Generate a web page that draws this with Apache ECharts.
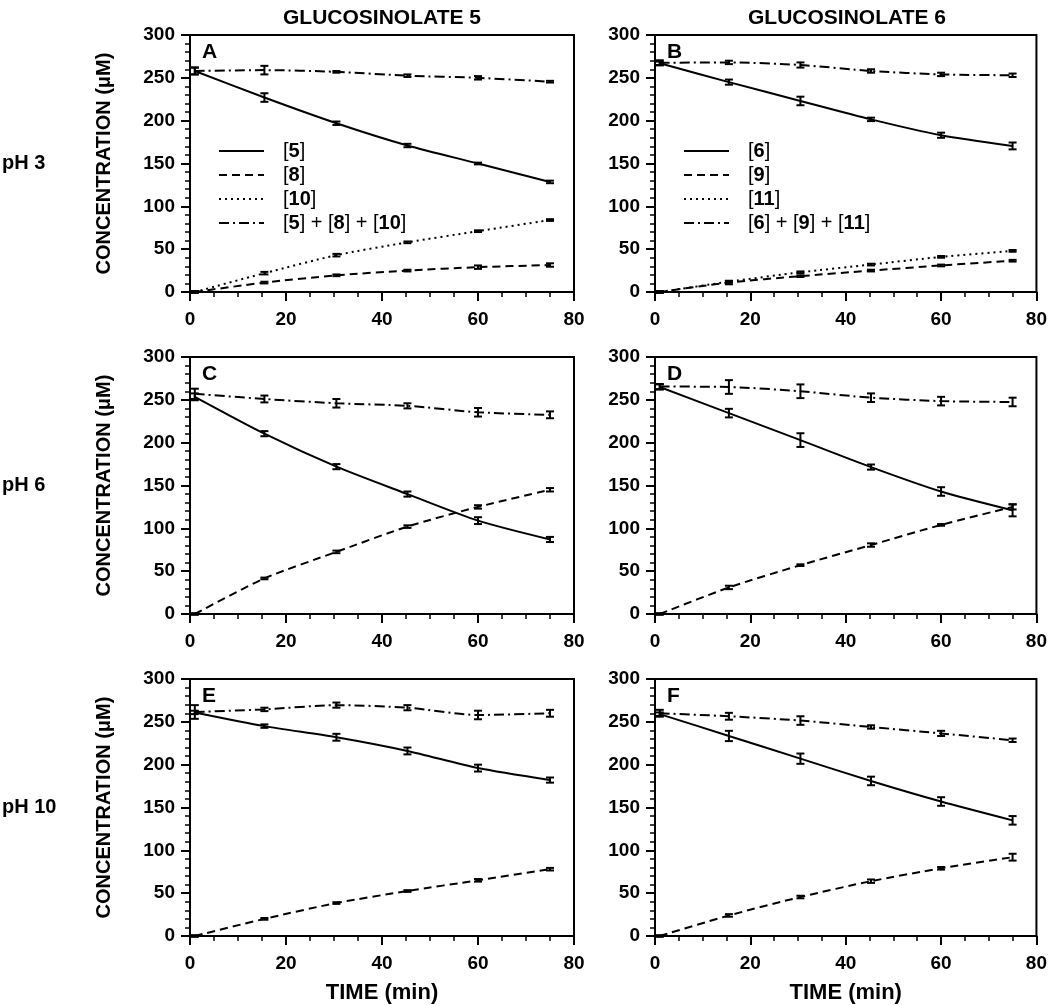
<!DOCTYPE html>
<html>
<head>
<meta charset="utf-8">
<title>Glucosinolate 5 / 6 degradation</title>
<script src="https://cdn.jsdelivr.net/npm/echarts@6/dist/echarts.min.js"></script>
<style>
  html, body { margin: 0; padding: 0; background: #fff; }
  #chart { width: 1050px; height: 1005px; }
</style>
</head>
<body>
<div id="chart"></div>
<script>
// sampling times (min)
var times = [1, 15.5, 30.5, 45.3, 60, 75];

// panel A - glucosinolate 5, pH 3
var a5 = [258, 227, 197, 171, 150, 128.5];
var a8 = [0, 11, 19.5, 25, 29, 31.5];
var a10 = [0, 22, 43, 58, 71, 84];
var aSum = [258, 259, 257, 252.5, 250, 245.5];
var a5Err = [4, 5, 2, 2, 1, 1.5];
var a8Err = [1, 1, 1, 1, 2, 2];
var a10Err = [1, 1.5, 1.5, 1, 1, 1];
var aSumErr = [4, 5, 1, 1.5, 2, 1];

// panel B - glucosinolate 6, pH 3
var b6 = [267, 245, 223, 201.5, 183, 170.5];
var b9 = [0, 11, 18.5, 25, 31, 36.5];
var b11 = [0, 12, 23, 32, 41, 48];
var bSum = [267.5, 268, 265, 258, 254, 253];
var b6Err = [2, 3, 5, 2, 3, 4];
var b9Err = [1, 2, 1, 1, 1, 1];
var b11Err = [1, 1, 1, 1, 1, 1];
var bSumErr = [3, 2, 3, 2, 2, 2];

// panel C - glucosinolate 5, pH 6
var c5 = [253.5, 210.5, 172, 140, 109, 87];
var c8 = [0, 41.5, 72.5, 102, 125, 145];
var cSum = [257, 251, 246, 243, 235.5, 232.5];
var c5Err = [4, 3, 3, 3, 4, 3];
var c8Err = [1, 1, 1.5, 1.5, 2, 2];
var cSumErr = [6, 4, 5, 3, 5, 4];

// panel D - glucosinolate 6, pH 6
var d6 = [265, 234.5, 203, 171.5, 143, 121];
var d9 = [0, 31, 57, 80.5, 104, 125];
var dSum = [265.5, 265, 260, 252.5, 248.5, 247.5];
var d6Err = [3, 5, 8, 3, 5, 7];
var d9Err = [1, 2, 1, 2, 1, 3];
var dSumErr = [3, 8, 8, 5, 5, 5];

// panel E - glucosinolate 5, pH 10
var e5 = [261, 245, 232, 216, 196, 182];
var e8 = [0, 20, 38.5, 52.5, 65, 78];
var eSum = [261.5, 264.5, 269.5, 266.5, 258, 260];
var e5Err = [2, 2, 4, 4, 4, 3];
var e8Err = [1, 1, 1, 1, 1.5, 1.5];
var eSumErr = [8, 2, 3, 3, 5, 4];

// panel F - glucosinolate 6, pH 10
var f6 = [259, 233.5, 207, 181, 157, 135];
var f9 = [0, 24, 45.5, 64, 79, 92];
var fSum = [260, 256.5, 251.5, 244, 236.5, 228.5];
var f6Err = [2, 6, 6, 5, 5, 5];
var f9Err = [1, 1.5, 1.5, 2, 1.5, 4];
var fSumErr = [4, 4, 5, 2, 3, 2];

var names5 = ['[5]', '[8]', '[10]', '[5] + [8] + [10]'];
var names6 = ['[6]', '[9]', '[11]', '[6] + [9] + [11]'];

var FONT = "'Liberation Sans', Arial, sans-serif";

// dash style per role: parent, first product, second product, sum
var dashes = ['solid', [8, 5], [2, 4], [10, 4, 2, 4]];

var panels = [
  { letter: 'A', names: names5, lines: [a5, a8, a10, aSum], errs: [a5Err, a8Err, a10Err, aSumErr] },
  { letter: 'B', names: names6, lines: [b6, b9, b11, bSum], errs: [b6Err, b9Err, b11Err, bSumErr] },
  { letter: 'C', names: names5, lines: [c5, c8, null, cSum], errs: [c5Err, c8Err, null, cSumErr] },
  { letter: 'D', names: names6, lines: [d6, d9, null, dSum], errs: [d6Err, d9Err, null, dSumErr] },
  { letter: 'E', names: names5, lines: [e5, e8, null, eSum], errs: [e5Err, e8Err, null, eSumErr] },
  { letter: 'F', names: names6, lines: [f6, f9, null, fSum], errs: [f6Err, f9Err, null, fSumErr] }
];

var colLeft = [190, 655];
var rowTop = [35, 357, 679];
var gw = 384, gh = 257;

function errorBar (params, api) {
  var t = api.value(0);
  var hi = api.coord([t, api.value(2)]);
  var lo = api.coord([t, api.value(1)]);
  var w = 4;
  var st = { stroke: '#000', lineWidth: 2 };
  return {
    type: 'group',
    children: [
      { type: 'line', shape: { x1: hi[0], y1: hi[1], x2: lo[0], y2: lo[1] }, style: st },
      { type: 'line', shape: { x1: hi[0] - w, y1: hi[1], x2: hi[0] + w, y2: hi[1] }, style: st },
      { type: 'line', shape: { x1: lo[0] - w, y1: lo[1], x2: lo[0] + w, y2: lo[1] }, style: st }
    ]
  };
}

var grids = [], xAxes = [], yAxes = [], series = [], graphics = [];

panels.forEach(function (p, i) {
  var col = i % 2, row = Math.floor(i / 2);
  grids.push({
    left: colLeft[col], top: rowTop[row], width: gw, height: gh,
    show: true, borderColor: '#000', borderWidth: 2, backgroundColor: 'transparent'
  });
  xAxes.push({
    gridIndex: i, type: 'value', min: 0, max: 80, interval: 20,
    name: row === 2 ? 'TIME (min)' : '',
    nameLocation: 'middle', nameGap: 46,
    nameTextStyle: { fontFamily: FONT, fontWeight: 'bold', fontSize: 22, color: '#000' },
    axisLine: { show: true, onZero: false, lineStyle: { color: '#000', width: 2 } },
    axisTick: { show: true, length: 9, lineStyle: { color: '#000', width: 2 } },
    minorTick: { show: true, splitNumber: 4, length: 5, lineStyle: { color: '#000', width: 1.5 } },
    splitLine: { show: false },
    axisLabel: { margin: 18, fontFamily: FONT, fontWeight: 'bold', fontSize: 19, color: '#000' }
  });
  yAxes.push({
    gridIndex: i, type: 'value', min: 0, max: 300, interval: 50,
    name: col === 0 ? 'CONCENTRATION (\u03bcM)' : '',
    nameLocation: 'middle', nameGap: 76, nameRotate: 90,
    nameTextStyle: { fontFamily: FONT, fontWeight: 'bold', fontSize: 20, color: '#000' },
    axisLine: { show: true, onZero: false, lineStyle: { color: '#000', width: 2 } },
    axisTick: { show: true, length: 9, lineStyle: { color: '#000', width: 2 } },
    minorTick: { show: true, splitNumber: 5, length: 5, lineStyle: { color: '#000', width: 1.5 } },
    splitLine: { show: false },
    axisLabel: { margin: 15, fontFamily: FONT, fontWeight: 'bold', fontSize: 19, color: '#000' }
  });

  p.lines.forEach(function (vals, k) {
    if (!vals) return;
    series.push({
      name: p.names[k],
      type: 'line',
      xAxisIndex: i, yAxisIndex: i,
      data: times.map(function (t, j) { return [t, vals[j]]; }),
      smooth: 0.25,
      symbol: 'none',
      itemStyle: { color: '#000' },
      lineStyle: { color: '#000', width: 2, type: dashes[k] },
      z: 2
    });
    var err = p.errs[k];
    series.push({
      type: 'custom',
      xAxisIndex: i, yAxisIndex: i,
      renderItem: errorBar,
      encode: { x: 0, y: [1, 2] },
      data: times.map(function (t, j) { return [t, vals[j] - err[j], vals[j] + err[j]]; }),
      z: 3
    });
  });

  graphics.push({
    type: 'text', x: colLeft[col] + 12, y: rowTop[row] + 7,
    style: { text: p.letter, font: 'bold 21px ' + FONT, fill: '#000' }
  });
});

graphics.push(
  { type: 'text', x: 382, y: 18, style: { text: 'GLUCOSINOLATE 5', font: 'bold 21px ' + FONT, fill: '#000', align: 'center', verticalAlign: 'middle' } },
  { type: 'text', x: 847, y: 18, style: { text: 'GLUCOSINOLATE 6', font: 'bold 21px ' + FONT, fill: '#000', align: 'center', verticalAlign: 'middle' } },
  { type: 'text', x: 2, y: 163, style: { text: 'pH 3', font: 'bold 20px ' + FONT, fill: '#000', verticalAlign: 'middle' } },
  { type: 'text', x: 2, y: 485, style: { text: 'pH 6', font: 'bold 20px ' + FONT, fill: '#000', verticalAlign: 'middle' } },
  { type: 'text', x: 2, y: 807, style: { text: 'pH 10', font: 'bold 20px ' + FONT, fill: '#000', verticalAlign: 'middle' } }
);

function legendFor (names, left) {
  return {
    data: names,
    orient: 'vertical',
    left: left, top: 136,
    itemWidth: 45, itemHeight: 12, itemGap: 4,
    selectedMode: false,
    itemStyle: { opacity: 0 },
    lineStyle: { color: '#000', width: 2 },
    formatter: function (name) { return name.replace(/(\d+)/g, '{n|$1}'); },
    textStyle: {
      fontFamily: FONT, fontSize: 20, color: '#000', lineHeight: 20,
      padding: [0, 0, 0, 14],
      rich: { n: { fontFamily: FONT, fontSize: 20, fontWeight: 'bold', color: '#000', lineHeight: 20 } }
    }
  };
}

var myChart = echarts.init(document.getElementById('chart'), null, { renderer: 'canvas' });
myChart.setOption({
  animation: false,
  backgroundColor: '#fff',
  grid: grids,
  xAxis: xAxes,
  yAxis: yAxes,
  legend: [legendFor(names5, 213), legendFor(names6, 678)],
  graphic: graphics,
  series: series
});
</script>
</body>
</html>
